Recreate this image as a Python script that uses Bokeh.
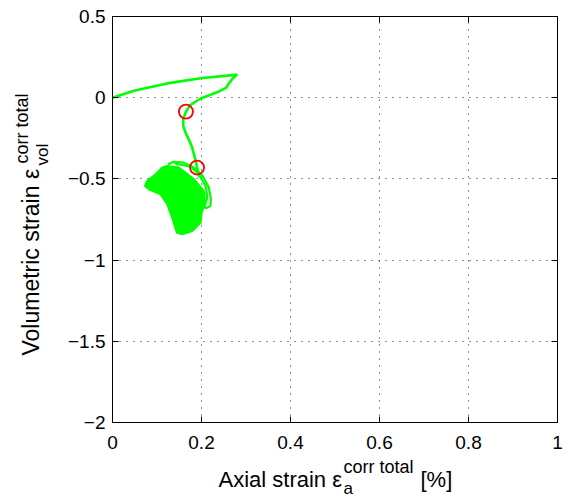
import math
from bokeh.plotting import figure
from bokeh.models import Range1d, FixedTicker, Label, LinearAxis
from bokeh.embed import file_html
from bokeh.resources import INLINE

# ---- data ----
path_x = [0.0, 0.048, 0.123, 0.198, 0.258, 0.280, 0.270, 0.262, 0.255, 0.235,
          0.198, 0.175, 0.165, 0.159, 0.159, 0.164, 0.171, 0.179, 0.183, 0.187,
          0.190, 0.195]
path_y = [0.0, 0.043, 0.088, 0.120, 0.136, 0.142, 0.118, 0.090, 0.060, 0.033,
          -0.005, -0.045, -0.086, -0.132, -0.173, -0.214, -0.255, -0.307, -0.348,
          -0.389, -0.430, -0.490]

blob_x = [0.123, 0.149, 0.164, 0.183, 0.205, 0.209, 0.201, 0.198, 0.179, 0.157,
          0.145, 0.134, 0.123, 0.108, 0.082, 0.073, 0.078, 0.097, 0.112]
blob_y = [-0.420, -0.430, -0.461, -0.502, -0.574, -0.656, -0.697, -0.770, -0.821,
          -0.841, -0.832, -0.739, -0.656, -0.595, -0.564, -0.543, -0.512, -0.471, -0.430]

loop1_x = [0.125, 0.138, 0.160, 0.180, 0.201, 0.216, 0.221, 0.220, 0.210, 0.203]
loop1_y = [-0.410, -0.395, -0.400, -0.425, -0.475, -0.550, -0.620, -0.667, -0.680, -0.660]

loop2_x = [0.140, 0.175, 0.194, 0.210, 0.213, 0.208]
loop2_y = [-0.405, -0.425, -0.470, -0.550, -0.620, -0.650]

marker_x = [0.165, 0.190]
marker_y = [-0.086, -0.430]

x_ticks = [0, 0.2, 0.4, 0.6, 0.8, 1]
x_tick_labels = ["0", "0.2", "0.4", "0.6", "0.8", "1"]
y_ticks = [-2, -1.5, -1, -0.5, 0, 0.5]
y_tick_labels = ["\u22122", "\u22121.5", "\u22121", "\u22120.5", "0", "0.5"]

GREEN = "#00ff00"
FONT = "Liberation Sans"

# ---- layout (pixels in the page) ----
W, H = 568, 499
BOX_L, BOX_R, BOX_T, BOX_B = 112, 557, 16, 422
XMIN, XMAX = x_ticks[0], x_ticks[-1]
YMIN, YMAX = y_ticks[0], y_ticks[-1]
sx = (BOX_R - BOX_L) / (XMAX - XMIN)
sy = (BOX_B - BOX_T) / (YMAX - YMIN)

def dx(px):
    return XMIN + (px - BOX_L) / sx

def dy(py):
    return YMAX - (py - BOX_T) / sy

p = figure(width=W, height=H, output_backend="svg", toolbar_location=None,
           x_range=Range1d(dx(0), dx(W)), y_range=Range1d(dy(H), dy(0)),
           min_border=0)
p.min_border_left = p.min_border_right = p.min_border_top = p.min_border_bottom = 0
p.background_fill_color = "white"
p.border_fill_color = "white"
p.outline_line_color = None

def style_axis(ax, ticks, labels, show_labels):
    ax.ticker = FixedTicker(ticks=ticks)
    ax.major_label_overrides = {t: l for t, l in zip(ticks, labels)}
    ax.minor_tick_line_color = None
    ax.major_tick_in = 6
    ax.major_tick_out = 0
    ax.axis_line_color = "black"
    ax.axis_line_width = 1
    ax.major_tick_line_color = "black"
    ax.major_label_text_font = FONT
    ax.major_label_text_font_size = "19px"
    ax.major_label_text_color = "black" if show_labels else None

xa = p.xaxis[0]
ya = p.yaxis[0]
style_axis(xa, x_ticks, x_tick_labels, True)
style_axis(ya, y_ticks, y_tick_labels, True)
xa.fixed_location = YMIN
ya.fixed_location = XMIN
xa.bounds = (XMIN, XMAX)
ya.bounds = (YMIN, YMAX)
xa.major_label_standoff = 13
ya.major_label_standoff = 7

top = LinearAxis(fixed_location=YMAX, bounds=(XMIN, XMAX))
style_axis(top, x_ticks, x_tick_labels, False)
p.add_layout(top, "above")
right = LinearAxis(fixed_location=XMAX, bounds=(YMIN, YMAX))
style_axis(right, y_ticks, y_tick_labels, False)
p.add_layout(right, "right")

p.xgrid[0].ticker = FixedTicker(ticks=x_ticks)
p.ygrid[0].ticker = FixedTicker(ticks=y_ticks)
p.xgrid[0].bounds = (XMIN, XMAX)
p.xgrid[0].cross_bounds = (YMIN, YMAX)
p.ygrid[0].bounds = (YMIN, YMAX)
p.ygrid[0].cross_bounds = (XMIN, XMAX)
for g in (p.xgrid[0], p.ygrid[0]):
    g.grid_line_color = "#222222"
    g.grid_line_dash = "1 6"
    g.grid_line_width = 1

p.patch(blob_x, blob_y, fill_color=GREEN, line_color=GREEN, line_width=2)
p.line(loop1_x, loop1_y, line_color=GREEN, line_width=2.2)
p.line(loop2_x, loop2_y, line_color=GREEN, line_width=2.2)
p.line(path_x, path_y, line_color=GREEN, line_width=2.6)
p.scatter(marker_x, marker_y, marker="circle", size=14, fill_color=None,
          line_color="red", line_width=1.8)

def lab(text, px, py, size, angle=0.0):
    p.add_layout(Label(x=dx(px), y=dy(py), text=text, angle=angle, text_font=FONT,
                       text_font_size=size, text_color="black",
                       text_align="left", text_baseline="alphabetic"))

# x-axis label
lab("Axial strain \u03b5", 218, 479, "22px")
lab("corr total", 343, 466, "18px")
lab("a", 343, 488, "17px")
lab("[%]", 420, 479, "22px")

# y-axis label (rotated)
lab("Volumetric strain \u03b5", 30, 355, "23px", math.pi / 2)
lab("corr total", 21, 163, "18px", math.pi / 2)
lab("vol", 42, 165, "17px", math.pi / 2)

open("out.html", "w").write(file_html(p, INLINE))
